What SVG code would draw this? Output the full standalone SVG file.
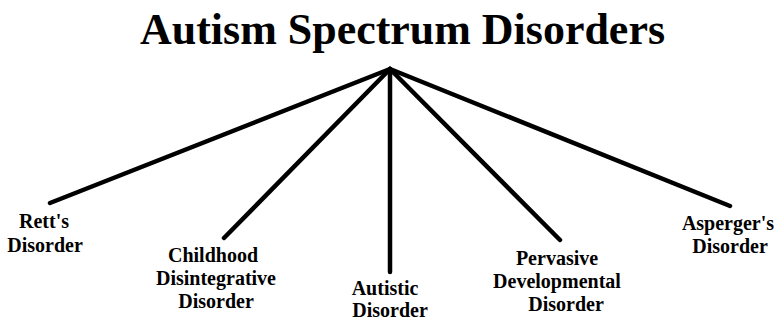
<svg xmlns="http://www.w3.org/2000/svg" width="781" height="321" viewBox="0 0 781 321">
<style>
.t{font-family:"Liberation Serif","Times New Roman",serif;font-weight:bold;fill:#000}
.lbl{font-size:20px;text-anchor:middle}
.ln{stroke:#000;stroke-width:4.5;stroke-linecap:round;fill:none}
</style>
<rect width="781" height="321" fill="#fff"/>
<g id="title"><text class="t" x="402.5" y="44" font-size="45" text-anchor="middle" textLength="525" lengthAdjust="spacingAndGlyphs">Autism Spectrum Disorders</text></g>
<g id="connectors">
<line class="ln" x1="390" y1="69" x2="50" y2="203"/>
<line class="ln" x1="390" y1="69" x2="224" y2="238"/>
<line class="ln" x1="390" y1="69" x2="390" y2="272"/>
<line class="ln" x1="390" y1="69" x2="560" y2="240"/>
<line class="ln" x1="390" y1="69" x2="730" y2="206"/>
</g>
<g id="rett"><text class="t lbl" x="44" y="228">Rett's</text><text class="t lbl" x="45" y="252">Disorder</text></g>
<g id="childhood"><text class="t lbl" x="213" y="262">Childhood</text><text class="t lbl" x="216" y="285">Disintegrative</text><text class="t lbl" x="216" y="308">Disorder</text></g>
<g id="autistic"><text class="t lbl" x="385" y="295">Autistic</text><text class="t lbl" x="390" y="317">Disorder</text></g>
<g id="pervasive"><text class="t lbl" x="557" y="265">Pervasive</text><text class="t lbl" x="557" y="288">Developmental</text><text class="t lbl" x="566" y="311">Disorder</text></g>
<g id="asperger"><text class="t lbl" x="728" y="230">Asperger's</text><text class="t lbl" x="730" y="253">Disorder</text></g>
</svg>
